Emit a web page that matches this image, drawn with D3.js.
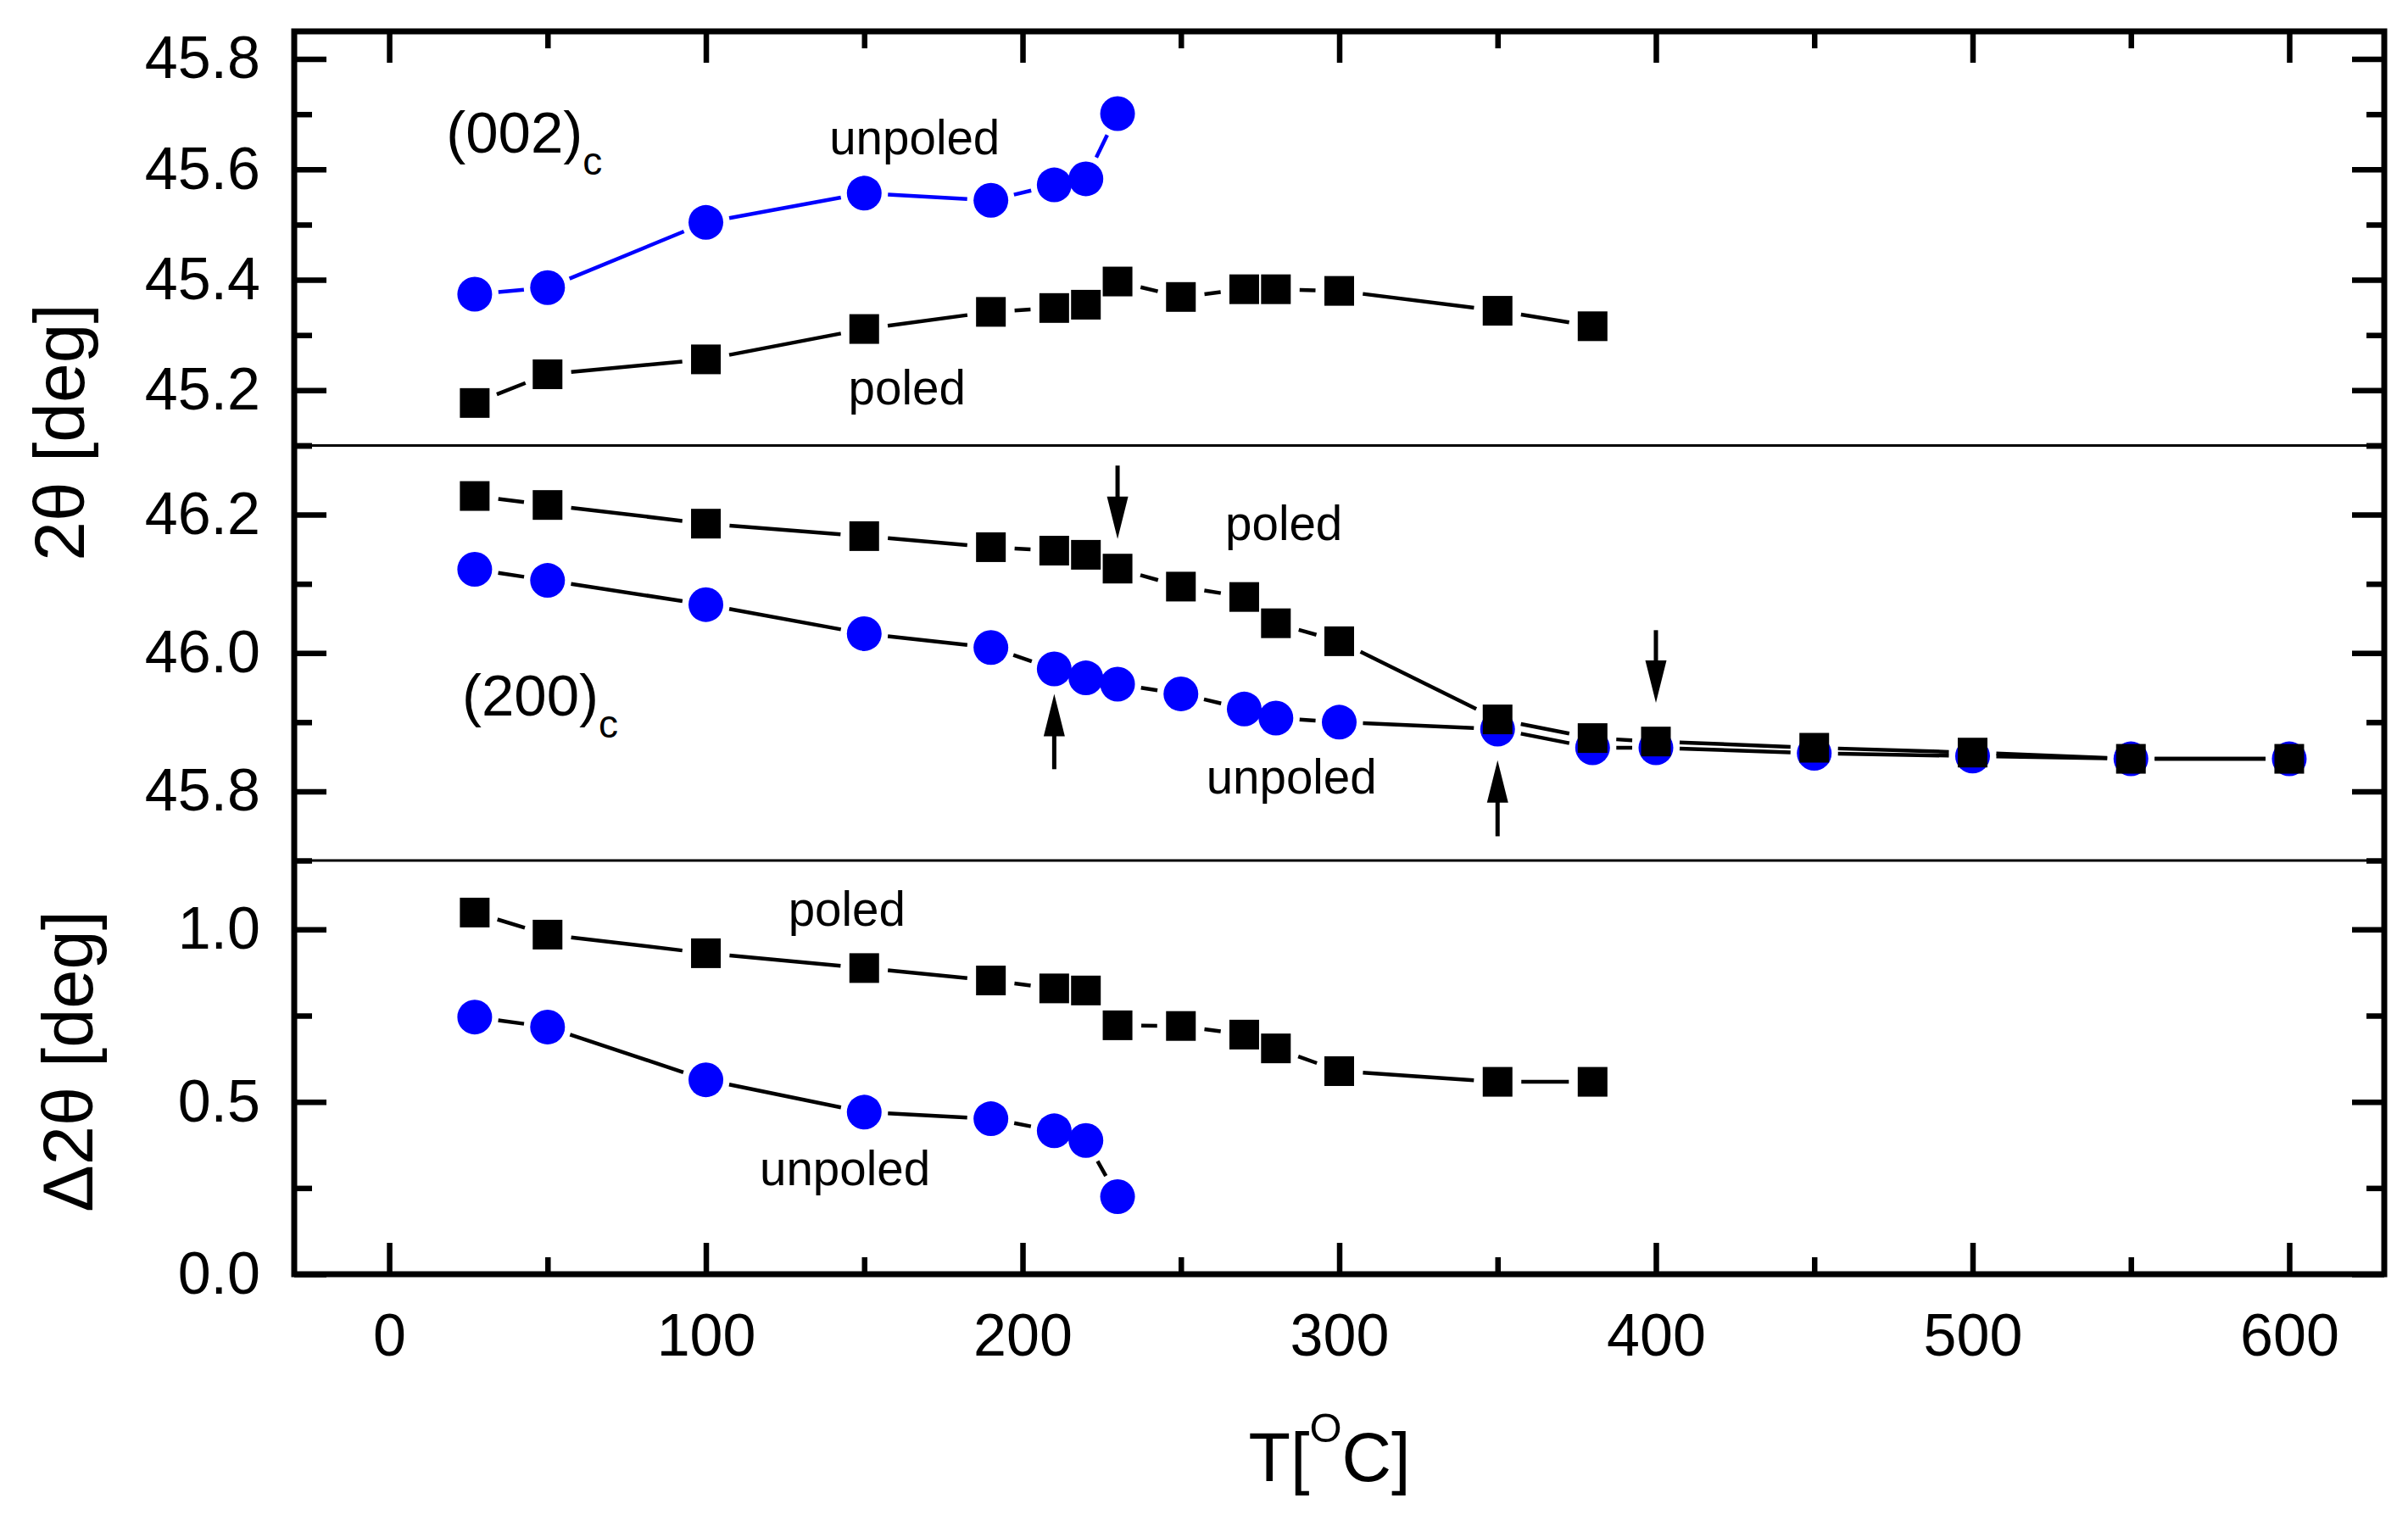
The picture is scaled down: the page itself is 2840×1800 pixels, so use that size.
<!DOCTYPE html>
<html><head><meta charset="utf-8">
<script src="https://cdn.jsdelivr.net/npm/d3@7/dist/d3.min.js"></script>
<style>html,body{margin:0;padding:0;background:#fff;}svg{display:block;}</style>
</head><body>
<svg id="chart" width="2840" height="1800"></svg>
<script>
// ---------------- data ----------------
const T_poled   = [27,50,100,150,190,210,220,230,250,270,280,300,350,380];
const T_unpoled = [27,50,100,150,190,210,220,230];
const T_full    = [27,50,100,150,190,210,220,230,250,270,280,300,350,380,400,450,500,550,600];

// (002)c peak position [deg]
const top_poled   = [45.177,45.229,45.256,45.311,45.342,45.349,45.355,45.397,45.369,45.383,45.383,45.380,45.344,45.316];
const top_unpoled = [45.374,45.386,45.504,45.557,45.544,45.572,45.583,45.701];

// (200)c peak position [deg]
const mid_poled   = [46.227,46.214,46.187,46.169,46.153,46.148,46.142,46.122,46.096,46.081,46.043,46.017,45.904,45.877,45.872,45.863,45.856,45.847,45.847];
const mid_unpoled = [46.121,46.105,46.070,46.028,46.008,45.977,45.964,45.955,45.941,45.919,45.906,45.900,45.890,45.863,45.863,45.855,45.851,45.847,45.847];

// splitting Δ2θ [deg]
const bot_poled   = [1.049,0.985,0.931,0.888,0.852,0.829,0.823,0.722,0.720,0.695,0.655,0.589,0.558,0.558];
const bot_unpoled = [0.746,0.717,0.564,0.470,0.451,0.416,0.388,0.225];

// ticks
const xMajor = [0,100,200,300,400,500,600];
const xMinor = [50,150,250,350,450,550];
const topMajor = [45.2,45.4,45.6,45.8], topMinor = [45.1,45.3,45.5,45.7];
const midMajor = [45.8,46.0,46.2],      midMinor = [45.7,45.9,46.1,46.3];
const botMajor = [0,0.5,1.0],           botMinor = [0.25,0.75];

// annotations (data coordinates)
const arrows = [
  {T:230, from:46.271, to:46.165},
  {T:210, from:45.832, to:45.941},
  {T:350, from:45.735, to:45.845},
  {T:400, from:46.033, to:45.928}
];
const labels = [
  {panel:"top", T:18,  v:45.630, text:"(002)", sub:"c"},
  {panel:"top", T:139, v:45.627, text:"unpoled"},
  {panel:"top", T:145, v:45.174, text:"poled"},
  {panel:"mid", T:264, v:46.163, text:"poled"},
  {panel:"mid", T:23,  v:45.910, text:"(200)", sub:"c"},
  {panel:"mid", T:258, v:45.797, text:"unpoled"},
  {panel:"bot", T:126, v:1.010,  text:"poled"},
  {panel:"bot", T:117, v:0.259,  text:"unpoled"}
];

// ---------------- layout ----------------
const FONT = "'Liberation Sans', Arial, Helvetica, sans-serif";
const BLUE = "#0000ff";
const L = 347, R = 2812, TOP = 37, BOT = 1503;
const s1 = 525.5, s2 = 1015;

const svg = d3.select("#chart");
const x = d3.scaleLinear().domain([-30,630]).range([L,R]);
const yS = {
  top: d3.scaleLinear().domain([45.1,45.85]).range([s1,TOP]),
  mid: d3.scaleLinear().domain([45.7,46.3]).range([s2,s1]),
  bot: d3.scaleLinear().domain([0,1.2]).range([BOT,s2])
};

// ---------------- axes ----------------
function styleAxis(g, labelsOn){
  g.select(".domain").remove();
  g.selectAll(".tick line").attr("stroke","#000").attr("stroke-width",6.5);
  g.selectAll(".tick text").attr("font-family",FONT).attr("font-size",70).attr("fill","#000");
  if(!labelsOn) g.selectAll(".tick text").remove();
}
const MAJ = 38, MIN = 21;
[["top",topMajor,topMinor],["mid",midMajor,midMinor],["bot",botMajor,botMinor]].forEach(([k,maj,min])=>{
  const y = yS[k];
  svg.append("g").attr("transform",`translate(${L},0)`)
    .call(d3.axisLeft(y).tickValues(maj).tickSize(-MAJ).tickPadding(40).tickFormat(d3.format(".1f")))
    .call(g=>styleAxis(g,true));
  svg.append("g").attr("transform",`translate(${L},0)`)
    .call(d3.axisLeft(y).tickValues(min).tickSize(-MIN).tickFormat(""))
    .call(g=>styleAxis(g,false));
  svg.append("g").attr("transform",`translate(${R},0)`)
    .call(d3.axisRight(y).tickValues(maj).tickSize(-MAJ).tickFormat(""))
    .call(g=>styleAxis(g,false));
  svg.append("g").attr("transform",`translate(${R},0)`)
    .call(d3.axisRight(y).tickValues(min).tickSize(-MIN).tickFormat(""))
    .call(g=>styleAxis(g,false));
});
svg.append("g").attr("transform",`translate(0,${BOT})`)
  .call(d3.axisBottom(x).tickValues(xMajor).tickSize(-MAJ+1).tickPadding(46).tickFormat(d3.format("d")))
  .call(g=>styleAxis(g,true));
svg.append("g").attr("transform",`translate(0,${BOT})`)
  .call(d3.axisBottom(x).tickValues(xMinor).tickSize(-MIN+1).tickFormat(""))
  .call(g=>styleAxis(g,false));
svg.append("g").attr("transform",`translate(0,${TOP})`)
  .call(d3.axisTop(x).tickValues(xMajor).tickSize(-MAJ+1).tickFormat(""))
  .call(g=>styleAxis(g,false));
svg.append("g").attr("transform",`translate(0,${TOP})`)
  .call(d3.axisTop(x).tickValues(xMinor).tickSize(-MIN+1).tickFormat(""))
  .call(g=>styleAxis(g,false));

// separators and frame
[s1,s2].forEach(yy=>svg.append("line").attr("x1",L).attr("x2",R).attr("y1",yy).attr("y2",yy)
  .attr("stroke","#000").attr("stroke-width",3));
svg.append("rect").attr("x",L).attr("y",TOP).attr("width",R-L).attr("height",BOT-TOP)
  .attr("fill","none").attr("stroke","#000").attr("stroke-width",7);

// ---------------- series ----------------
const GAP = 28;
function drawSeries(Ts, vals, y, lineColor, markColor, shape){
  const pts = Ts.map((t,i)=>[x(t), y(vals[i])]);
  const segs = [];
  for(let i=0;i<pts.length-1;i++){
    const [x1,y1]=pts[i],[x2,y2]=pts[i+1];
    const dx=x2-x1, dy=y2-y1, len=Math.hypot(dx,dy);
    if(len>2*GAP){
      const ux=dx/len, uy=dy/len;
      segs.push([x1+ux*GAP,y1+uy*GAP,x2-ux*GAP,y2-uy*GAP]);
    }
  }
  const g = svg.append("g");
  g.selectAll("line").data(segs).join("line")
    .attr("x1",d=>d[0]).attr("y1",d=>d[1]).attr("x2",d=>d[2]).attr("y2",d=>d[3])
    .attr("stroke",lineColor).attr("stroke-width",4.5);
  if(shape==="circle"){
    g.selectAll("circle").data(pts).join("circle")
      .attr("cx",d=>d[0]).attr("cy",d=>d[1]).attr("r",20.5).attr("fill",markColor);
  } else {
    const S=35;
    g.selectAll("rect").data(pts).join("rect")
      .attr("x",d=>d[0]-S/2).attr("y",d=>d[1]-S/2).attr("width",S).attr("height",S).attr("fill",markColor);
  }
}
drawSeries(T_unpoled, top_unpoled, yS.top, BLUE, BLUE, "circle");
drawSeries(T_poled,   top_poled,   yS.top, "#000", "#000", "square");
drawSeries(T_full,    mid_unpoled, yS.mid, "#000", BLUE, "circle");
drawSeries(T_full,    mid_poled,   yS.mid, "#000", "#000", "square");
drawSeries(T_unpoled, bot_unpoled, yS.bot, "#000", BLUE, "circle");
drawSeries(T_poled,   bot_poled,   yS.bot, "#000", "#000", "square");

// ---------------- arrows ----------------
const HEAD = 50, HW = 12.5;
arrows.forEach(a=>{
  const ax = x(a.T), y0 = yS.mid(a.from), y1 = yS.mid(a.to);
  const dir = Math.sign(y1-y0);
  const base = y1 - dir*HEAD;
  svg.append("line").attr("x1",ax).attr("x2",ax).attr("y1",y0).attr("y2",base+dir*5)
    .attr("stroke","#000").attr("stroke-width",5);
  svg.append("path").attr("d",`M${ax},${y1}L${ax-HW},${base}L${ax+HW},${base}Z`).attr("fill","#000");
});

// ---------------- text labels ----------------
labels.forEach(l=>{
  const t = svg.append("text").attr("x",x(l.T)).attr("y",yS[l.panel](l.v))
    .attr("font-family",FONT).attr("fill","#000");
  if(l.sub){
    t.attr("font-size",69).text(l.text);
    t.append("tspan").attr("font-size",46).attr("dy",26).text(l.sub);
  } else {
    t.attr("font-size",56.5).text(l.text);
  }
});

// ---------------- axis titles ----------------
svg.append("text").attr("transform","translate(99,510) rotate(-90)")
  .attr("text-anchor","middle").attr("font-family",FONT).attr("font-size",84).text("2θ [deg]");
svg.append("text").attr("transform","translate(109,1252) rotate(-90)")
  .attr("text-anchor","middle").attr("font-family",FONT).attr("font-size",83).text("Δ2θ [deg]");
const xt = svg.append("text").attr("x",1568).attr("y",1747).attr("text-anchor","middle")
  .attr("font-family",FONT).attr("font-size",81);
xt.append("tspan").text("T[");
xt.append("tspan").attr("font-size",49).attr("dy",-46).text("O");
xt.append("tspan").attr("dy",46).text("C]");
</script>
</body></html>
